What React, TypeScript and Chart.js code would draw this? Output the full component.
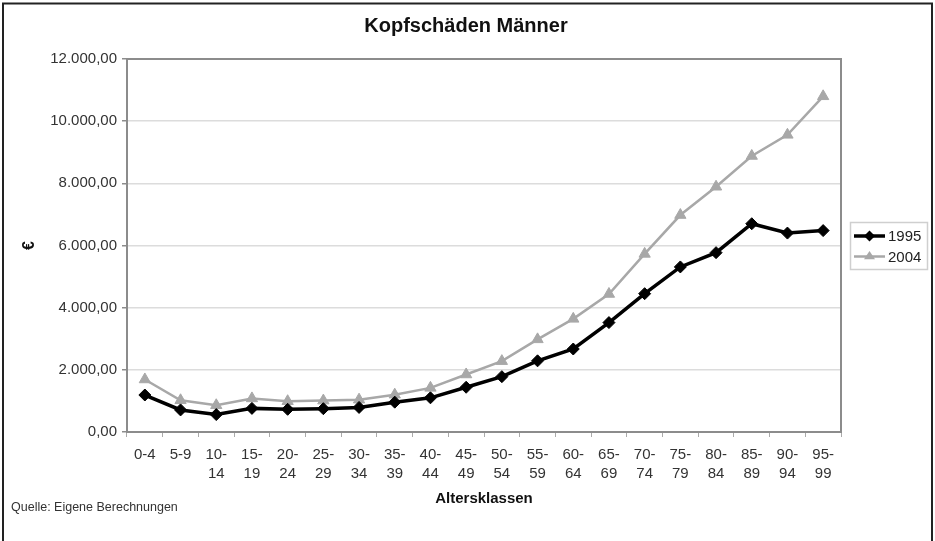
import React, { useEffect, useRef } from "react";
import { Chart, registerables } from "chart.js";

Chart.register(...registerables);

const chartTitle = "Kopfschäden Männer";
const xTitle = "Altersklassen";
const yTitle = "€";
const sourceNote = "Quelle: Eigene Berechnungen";

const ageGroups: string[][] = [
  ["0-4"], ["5-9"], ["10-", "14"], ["15-", "19"], ["20-", "24"],
  ["25-", "29"], ["30-", "34"], ["35-", "39"], ["40-", "44"], ["45-", "49"],
  ["50-", "54"], ["55-", "59"], ["60-", "64"], ["65-", "69"], ["70-", "74"],
  ["75-", "79"], ["80-", "84"], ["85-", "89"], ["90-", "94"], ["95-", "99"],
];

const seriesNames = ["1995", "2004"];
const values1995 = [1190, 710, 560, 760, 730, 750, 790, 960, 1100, 1440, 1780, 2290, 2670, 3520, 4450, 5310, 5770, 6700, 6400, 6480];
const values2004 = [1690, 1020, 860, 1080, 990, 1010, 1040, 1200, 1420, 1850, 2280, 2980, 3640, 4440, 5730, 6980, 7890, 8880, 9560, 10800];

const yMin = 0;
const yMax = 12000;
const yStep = 2000;

const FONT = "'Liberation Sans', Arial, sans-serif";
const COLOR_1995 = "#000000";
const COLOR_2004 = "#a8a8a8";

function fmtDE(v: number): string {
  const n = Math.round(v);
  const s = String(n).replace(/\B(?=(\d{3})+(?!\d))/g, ".");
  return s + ",00";
}

function drawMarker(ctx: CanvasRenderingContext2D, style: string, x: number, y: number, r: number, color: string) {
  ctx.save();
  ctx.fillStyle = color;
  ctx.beginPath();
  if (style === "rectRot") {
    ctx.moveTo(x, y - r);
    ctx.lineTo(x + r, y);
    ctx.lineTo(x, y + r);
    ctx.lineTo(x - r, y);
  } else {
    const h = r * 1.5;
    ctx.moveTo(x, y - h * 0.66);
    ctx.lineTo(x + r, y + h * 0.34);
    ctx.lineTo(x - r, y + h * 0.34);
  }
  ctx.closePath();
  ctx.fill();
  ctx.restore();
}

const decorPlugin = {
  id: "decor",
  beforeDraw(chart: any) {
    const ctx = chart.ctx as CanvasRenderingContext2D;
    ctx.save();
    ctx.fillStyle = "#ffffff";
    ctx.fillRect(0, 0, chart.width, chart.height);
    // outer frame
    ctx.strokeStyle = "#222";
    ctx.lineWidth = 2;
    ctx.beginPath();
    ctx.moveTo(3, chart.height + 5);
    ctx.lineTo(3, 3.5);
    ctx.lineTo(932, 3.5);
    ctx.lineTo(932, chart.height + 5);
    ctx.stroke();
    // title
    ctx.fillStyle = "#111";
    ctx.font = `bold 20px ${FONT}`;
    ctx.textAlign = "center";
    ctx.textBaseline = "middle";
    ctx.fillText(chartTitle, 466, 26);
    ctx.restore();
  },
  beforeDatasetsDraw(chart: any) {
    const ctx = chart.ctx as CanvasRenderingContext2D;
    const a = chart.chartArea;
    ctx.save();
    ctx.strokeStyle = "#8c8c8c";
    ctx.lineWidth = 2;
    ctx.strokeRect(a.left, a.top, a.right - a.left, a.bottom - a.top);
    ctx.restore();
  },
  afterDraw(chart: any) {
    const ctx = chart.ctx as CanvasRenderingContext2D;
    ctx.save();
    // legend
    const lx = 850, ly = 222, lw = 77, lh = 47;
    ctx.strokeStyle = "#cfcfcf";
    ctx.lineWidth = 1.5;
    ctx.strokeRect(lx + 0.5, ly + 0.5, lw, lh);
    const styles = ["rectRot", "triangle"];
    const colors = [COLOR_1995, COLOR_2004];
    const widths = [3.5, 2.5];
    chart.data.datasets.forEach((ds: any, i: number) => {
      const yy = 236 + i * 20.5;
      ctx.strokeStyle = colors[i];
      ctx.lineWidth = widths[i];
      ctx.beginPath();
      ctx.moveTo(854, yy);
      ctx.lineTo(885, yy);
      ctx.stroke();
      drawMarker(ctx, styles[i], 869.5, yy, 5.5, colors[i]);
      ctx.fillStyle = "#222";
      ctx.font = `15px ${FONT}`;
      ctx.textBaseline = "middle";
      ctx.textAlign = "left";
      ctx.fillText(ds.label, 888, yy + 1);
    });
    // source note
    ctx.fillStyle = "#333";
    ctx.font = `12.5px ${FONT}`;
    ctx.textBaseline = "middle";
    ctx.textAlign = "left";
    ctx.fillText(sourceNote, 11, 508);
    ctx.restore();
  },
};

export default function App() {
  const canvasRef = useRef<HTMLCanvasElement | null>(null);

  useEffect(() => {
    const canvas = canvasRef.current;
    if (!canvas) return;
    const chart = new Chart(canvas, {
      type: "line",
      data: {
        labels: ageGroups,
        datasets: [
          {
            label: seriesNames[0],
            data: values1995,
            borderColor: COLOR_1995,
            backgroundColor: COLOR_1995,
            borderWidth: 3.5,
            pointStyle: "rectRot",
            pointRadius: 6,
            pointBorderWidth: 1,
            tension: 0,
          },
          {
            label: seriesNames[1],
            data: values2004,
            borderColor: COLOR_2004,
            backgroundColor: COLOR_2004,
            borderWidth: 2.5,
            pointStyle: "triangle",
            pointRadius: 6.5,
            pointBorderWidth: 1,
            tension: 0,
          },
        ],
      },
      options: {
        responsive: false,
        animation: false,
        devicePixelRatio: 1,
        layout: { padding: { left: 0, right: 94, top: 59, bottom: 30 } },
        plugins: {
          legend: { display: false },
          tooltip: { enabled: false },
          title: { display: false },
        },
        scales: {
          x: {
            type: "category",
            offset: true,
            grid: {
              offset: true,
              drawOnChartArea: false,
              drawTicks: true,
              tickLength: 5,
              tickColor: "#aaaaaa",
            },
            border: { display: true, color: "#8c8c8c", width: 2 },
            ticks: {
              color: "#333",
              font: { family: FONT, size: 15, lineHeight: 1.23 },
              padding: 9,
              maxRotation: 0,
              minRotation: 0,
              autoSkip: false,
            },
            title: {
              display: true,
              text: xTitle,
              color: "#111",
              font: { family: FONT, size: 15, weight: "bold", lineHeight: 1.2 },
              padding: { top: 0, bottom: 3 },
            },
            afterFit: (scale: any) => {
              scale.height = 79;
            },
          },
          y: {
            min: yMin,
            max: yMax,
            grid: {
              color: "#dcdcdc",
              lineWidth: 1.5,
              drawTicks: true,
              tickLength: 5,
              tickColor: "#8c8c8c",
            },
            border: { display: true, color: "#8c8c8c", width: 2 },
            ticks: {
              stepSize: yStep,
              color: "#333",
              font: { family: FONT, size: 15 },
              padding: 5,
              callback: (v: any) => fmtDE(Number(v)),
            },
            title: {
              display: true,
              text: yTitle,
              color: "#111",
              font: { family: FONT, size: 16, weight: "bold", lineHeight: 1.2 },
              padding: { top: 20, bottom: 0 },
            },
            afterFit: (scale: any) => {
              scale.width = 127;
            },
          },
        },
      },
      plugins: [decorPlugin],
    });
    return () => chart.destroy();
  }, []);

  return (
    <div style={{ position: "absolute", left: 0, top: 0, width: 935, height: 541 }}>
      <canvas ref={canvasRef} width={935} height={541} style={{ display: "block" }} />
    </div>
  );
}
